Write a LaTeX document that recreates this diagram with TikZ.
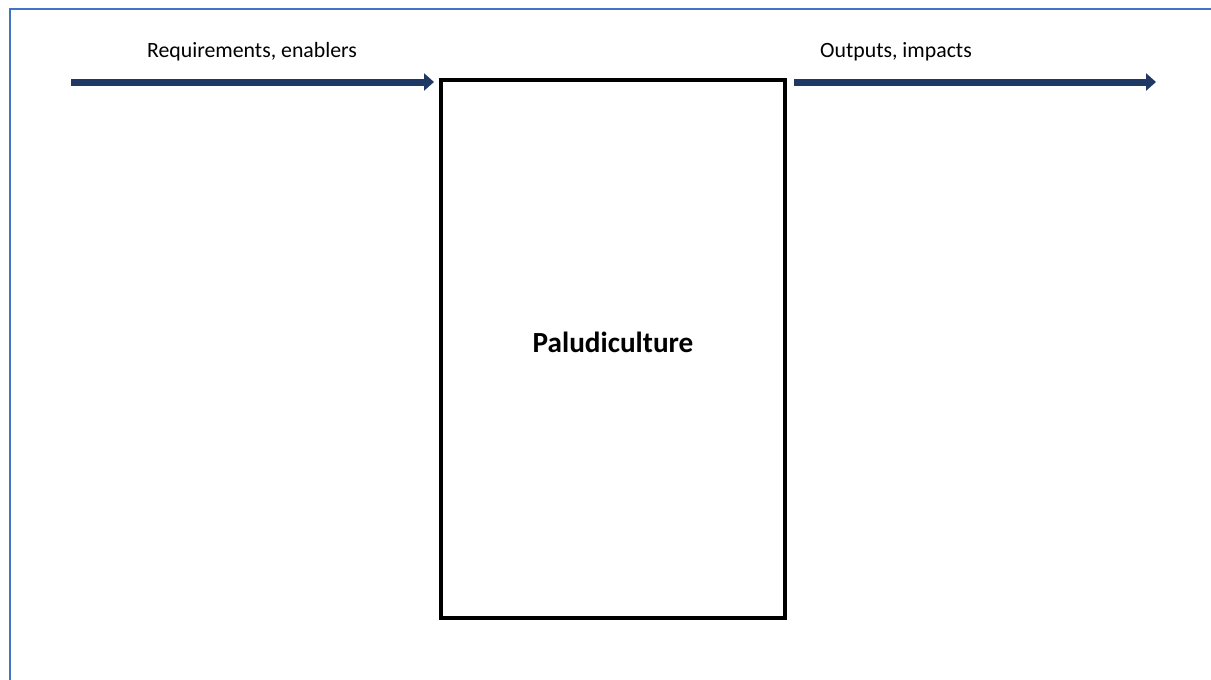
\documentclass[tikz,border=0pt]{standalone}
\usepackage{fontspec}
\setmainfont{Carlito}
\usetikzlibrary{arrows.meta,positioning}
\definecolor{frameblue}{RGB}{68,114,196}
\definecolor{arrownavy}{RGB}{31,56,100}
\begin{document}
\begin{tikzpicture}[x=1pt,y=-1pt,
  flow/.style={line width=7pt,draw=arrownavy,-{Triangle[length=10pt,width=17pt]}},
  caption/.style={font=\fontsize{21.8}{26}\selectfont,inner sep=0pt},
  mainbox/.style={draw=black,line width=3.5pt,minimum width=344pt,minimum height=538pt,inner sep=0pt}]

	\useasboundingbox (0,0) rectangle (1211,680);

	%frame
	\draw[frameblue,line width=2pt] (10,680) -- (10,9) -- (1211,9);

	%box
	\node[mainbox] (palu) at (613,349) {};
	\node[inner sep=0pt,font=\fontsize{29.2}{34}\selectfont\bfseries] (paluText) at (613,342) {Paludiculture};

	%arrows
	\coordinate (inStart) at (71,82);
	\coordinate (inEnd) at (434,82);
	\coordinate (outStart) at (794,82);
	\coordinate (outEnd) at (1156,82);
	\draw[flow] (inStart) -- (inEnd);
	\draw[flow] (outStart) -- (outEnd);

	%labels
	\node[caption] (inLabel) at (252,52) {Requirements, enablers};
	\node[caption] (outLabel) at (896,52) {Outputs, impacts};
\end{tikzpicture}
\end{document}
